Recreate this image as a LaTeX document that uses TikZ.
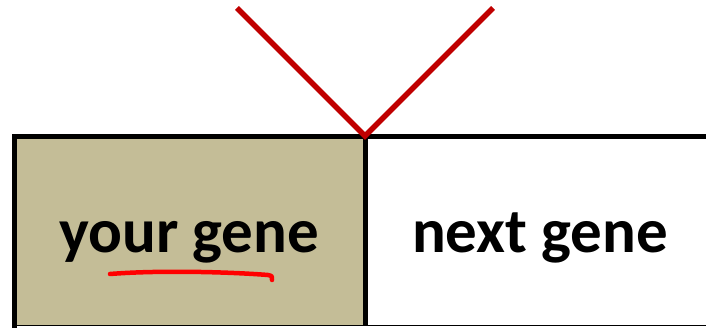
\documentclass[tikz,border=0pt]{standalone}
\usepackage{fontspec}
\setmainfont{Carlito}
\definecolor{genetan}{HTML}{C4BD97}
\definecolor{vred}{HTML}{C00000}
\definecolor{penred}{HTML}{FF0000}
\begin{document}
\begin{tikzpicture}[x=1pt,y=-1pt,
  genelabel/.style={font=\fontsize{63}{70}\selectfont\bfseries, text=black, anchor=base, inner sep=0pt},
  border/.style={draw=black, line width=5pt}]
\useasboundingbox (0,0) rectangle (706,328);
% left box fill
\fill[genetan] (14,137) rectangle (365,326);
% borders
\draw[border, line cap=rect] (706,137) -- (14.5,137) -- (14.5,326);
\draw[black, line width=5pt] (365,137) -- (365,326);
\draw[black, line width=1.5pt] (14,325.5) -- (706,325.5);
% nodes
\node[genelabel] (your) at (189,253) {your gene};
\node[genelabel] (next) at (540,253) {next gene};
% red V
\coordinate (apex) at (365,136);
\coordinate (vl) at (237,8);
\coordinate (vr) at (493,8);
\draw[vred, line width=5.5pt, line join=miter] (vl) -- (apex) -- (vr);
% underline
\coordinate (u1) at (110,274);
\coordinate (u2) at (272,280);
\draw[penred, line width=4.5pt, line cap=round] (u1) .. controls (160,270) and (230,272) .. (268,275) .. controls (272,276) .. (u2);
\end{tikzpicture}
\end{document}
